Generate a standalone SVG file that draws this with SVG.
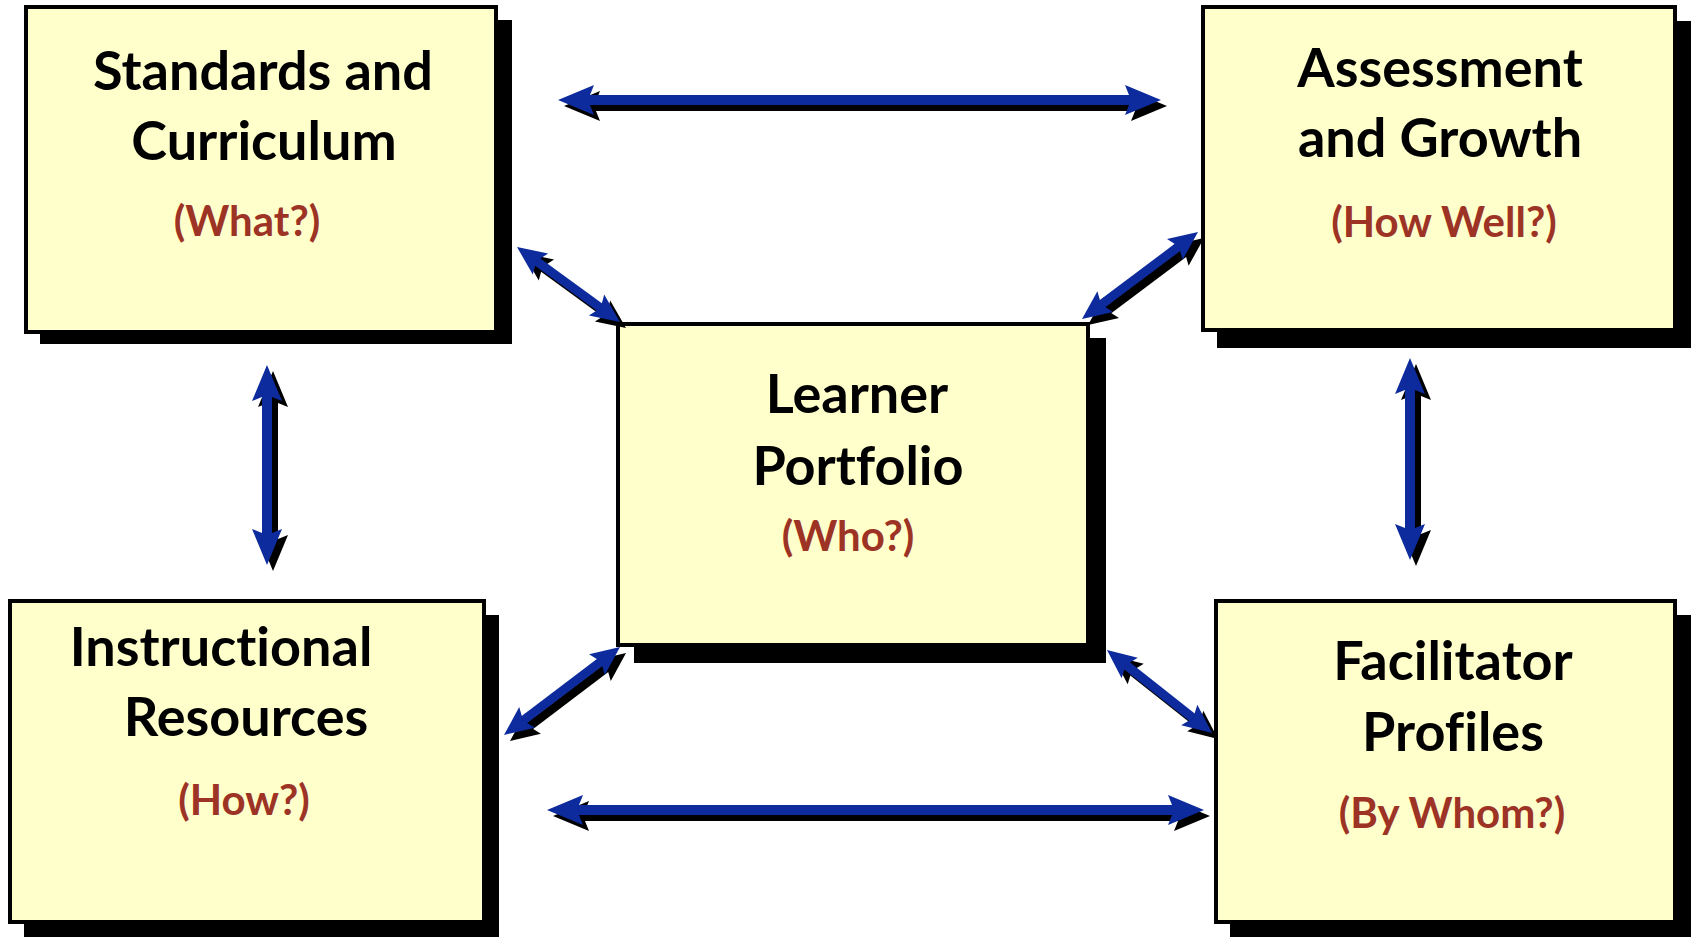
<svg xmlns="http://www.w3.org/2000/svg" width="1691" height="937" viewBox="0 0 1691 937">
  <style>
    .shadow { fill: #000000; }
    .box { fill: #FFFFCC; stroke: #000000; stroke-width: 4; }
    .title { font-family: Lato, "Liberation Sans", sans-serif; font-weight: bold; font-size: 54px; fill: #000000; text-anchor: middle; font-variant-ligatures: none; }
    .sub { font-family: Lato, "Liberation Sans", sans-serif; font-weight: bold; font-size: 42px; fill: #9C3325; text-anchor: middle; font-variant-ligatures: none; }
    .conn-blue { stroke: #0D2B9C; fill: none; }
    .conn-black { stroke: #000000; fill: none; }
    .big { stroke-width: 10; }
    .small { stroke-width: 9; }
  </style>
  <defs>
    <marker id="hb-blue" markerUnits="userSpaceOnUse" orient="auto-start-reverse" refX="0" refY="0" markerWidth="80" markerHeight="80" viewBox="-40 -40 80 80" overflow="visible">
      <path d="M-6,-15 L30,0 L-6,15 L0,0 Z" fill="#0D2B9C"/>
    </marker>
    <marker id="hb-black" markerUnits="userSpaceOnUse" orient="auto-start-reverse" refX="0" refY="0" markerWidth="80" markerHeight="80" viewBox="-40 -40 80 80" overflow="visible">
      <path d="M-6,-15 L30,0 L-6,15 L0,0 Z" fill="#000000"/>
    </marker>
    <marker id="hs-blue" markerUnits="userSpaceOnUse" orient="auto-start-reverse" refX="0" refY="0" markerWidth="80" markerHeight="80" viewBox="-40 -40 80 80" overflow="visible">
      <path d="M-5,-13 L24,0 L-5,13 L0,0 Z" fill="#0D2B9C"/>
    </marker>
    <marker id="hs-black" markerUnits="userSpaceOnUse" orient="auto-start-reverse" refX="0" refY="0" markerWidth="80" markerHeight="80" viewBox="-40 -40 80 80" overflow="visible">
      <path d="M-5,-13 L24,0 L-5,13 L0,0 Z" fill="#000000"/>
    </marker>
  </defs>

  <g id="node-standards">
    <rect class="shadow" x="40" y="20" width="472" height="324"/>
    <rect class="box" x="26" y="7" width="470" height="325"/>
    <text class="title" x="263" y="90">Standards and</text>
    <text class="title" x="264" y="160">Curriculum</text>
    <text class="sub" x="247" y="236">(What?)</text>
  </g>

  <g id="node-assessment">
    <rect class="shadow" x="1217" y="21" width="474" height="327"/>
    <rect class="box" x="1203" y="7" width="472" height="323"/>
    <text class="title" x="1440" y="87">Assessment</text>
    <text class="title" x="1440" y="157">and Growth</text>
    <text class="sub" x="1444" y="237">(How Well?)</text>
  </g>

  <g id="node-learner">
    <rect class="shadow" x="634" y="338" width="472" height="325"/>
    <rect class="box" x="618" y="324" width="470" height="321"/>
    <text class="title" x="857" y="413">Learner</text>
    <text class="title" x="858" y="485">Portfolio</text>
    <text class="sub" x="848" y="551">(Who?)</text>
  </g>

  <g id="node-instructional">
    <rect class="shadow" x="24" y="615" width="475" height="322"/>
    <rect class="box" x="10" y="601" width="474" height="321"/>
    <text class="title" x="221" y="666">Instructional</text>
    <text class="title" x="246" y="736">Resources</text>
    <text class="sub" x="244" y="815">(How?)</text>
  </g>

  <g id="node-facilitator">
    <rect class="shadow" x="1230" y="615" width="461" height="322"/>
    <rect class="box" x="1216" y="601" width="459" height="321"/>
    <text class="title" x="1453" y="680">Facilitator</text>
    <text class="title" x="1453" y="751">Profiles</text>
    <text class="sub" x="1452" y="828">(By Whom?)</text>
  </g>

  <g id="connectors">
    <g transform="translate(6,6)">
      <line class="conn-black big" x1="588" y1="100" x2="1131" y2="100" marker-start="url(#hb-black)" marker-end="url(#hb-black)"/>
      <line class="conn-black big" x1="577" y1="810" x2="1174" y2="810" marker-start="url(#hb-black)" marker-end="url(#hb-black)"/>
      <line class="conn-black big" x1="267" y1="395" x2="267" y2="535" marker-start="url(#hb-black)" marker-end="url(#hb-black)"/>
      <line class="conn-black big" x1="1410" y1="388" x2="1410" y2="530" marker-start="url(#hb-black)" marker-end="url(#hb-black)"/>
      <line class="conn-black small" x1="536.4" y1="261.1" x2="600.6" y2="307.9" marker-start="url(#hs-black)" marker-end="url(#hs-black)"/>
      <line class="conn-black small" x1="1101.2" y1="304.6" x2="1178.8" y2="246.4" marker-start="url(#hs-black)" marker-end="url(#hs-black)"/>
      <line class="conn-black small" x1="600.9" y1="661.5" x2="523.1" y2="720.5" marker-start="url(#hs-black)" marker-end="url(#hs-black)"/>
      <line class="conn-black small" x1="1125.8" y1="664.9" x2="1193.2" y2="718.1" marker-start="url(#hs-black)" marker-end="url(#hs-black)"/>
    </g>
    <g>
      <line class="conn-blue big" x1="588" y1="100" x2="1131" y2="100" marker-start="url(#hb-blue)" marker-end="url(#hb-blue)"/>
      <line class="conn-blue big" x1="577" y1="810" x2="1174" y2="810" marker-start="url(#hb-blue)" marker-end="url(#hb-blue)"/>
      <line class="conn-blue big" x1="267" y1="395" x2="267" y2="535" marker-start="url(#hb-blue)" marker-end="url(#hb-blue)"/>
      <line class="conn-blue big" x1="1410" y1="388" x2="1410" y2="530" marker-start="url(#hb-blue)" marker-end="url(#hb-blue)"/>
      <line class="conn-blue small" x1="536.4" y1="261.1" x2="600.6" y2="307.9" marker-start="url(#hs-blue)" marker-end="url(#hs-blue)"/>
      <line class="conn-blue small" x1="1101.2" y1="304.6" x2="1178.8" y2="246.4" marker-start="url(#hs-blue)" marker-end="url(#hs-blue)"/>
      <line class="conn-blue small" x1="600.9" y1="661.5" x2="523.1" y2="720.5" marker-start="url(#hs-blue)" marker-end="url(#hs-blue)"/>
      <line class="conn-blue small" x1="1125.8" y1="664.9" x2="1193.2" y2="718.1" marker-start="url(#hs-blue)" marker-end="url(#hs-blue)"/>
    </g>
  </g>
</svg>
